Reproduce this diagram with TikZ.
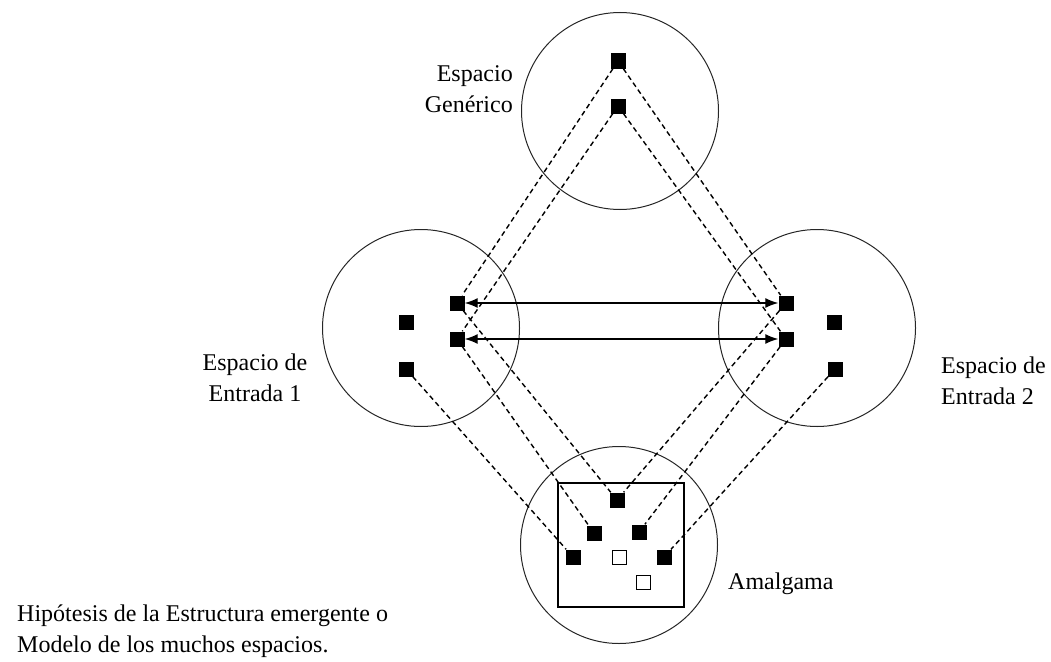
\documentclass[tikz,border=0pt]{standalone}
\usepackage{fontspec}
\setmainfont{Liberation Serif}
\usepackage{tikz}
\usetikzlibrary{positioning,arrows.meta}

\begin{document}
\begin{tikzpicture}
        [x=1pt,y=-1pt,
        ring/.style={circle,draw=black!85,line width=1pt,minimum size=197pt,inner sep=0pt},
        sq/.style={rectangle,fill=black,minimum size=15pt,inner sep=0pt},
        osq/.style={rectangle,draw=black,line width=1pt,fill=white,minimum size=14pt,inner sep=0pt},
        lbl/.style={font=\fontsize{24}{31}\selectfont,inner sep=0pt},
        map/.style={dash pattern=on 5pt off 3.5pt,line width=1.4pt}]
        \useasboundingbox (0,0) rectangle (1051,661);

        % the four spaces
        \node[ring] (gen) at (620, 111) {};
        \node[ring] (in1) at (421, 328) {};
        \node[ring] (in2) at (817, 328) {};
        \node[ring] (bld) at (619, 545) {};
        \draw[line width=1.1pt] (558, 483) rectangle (684, 607);

        % generic space
        \node[sq] (g1) at (618, 61) {};
        \node[sq] (g2) at (618, 106) {};

        % input space 1
        \node[sq] (a1) at (457, 303) {};
        \node[sq] (a2) at (457, 339) {};
        \node[sq] (a3) at (406, 322) {};
        \node[sq] (a4) at (406, 369) {};

        % input space 2
        \node[sq] (b1) at (786, 303) {};
        \node[sq] (b2) at (786, 339) {};
        \node[sq] (b3) at (834, 322) {};
        \node[sq] (b4) at (835, 369) {};

        % blend
        \node[sq] (c1) at (617, 500) {};
        \node[sq] (c2) at (594, 533) {};
        \node[sq] (c3) at (639, 532) {};
        \node[sq] (c4) at (573, 557) {};
        \node[osq] (c5) at (619, 557) {};
        \node[sq] (c6) at (664, 557) {};
        \node[osq] (c7) at (643, 582) {};

        % labels (base = last line)
        \node[lbl, align=right, anchor=base east] (t1) at (513, 112) {Espacio\\Genérico};
        \node[lbl, align=center, anchor=base] (t2) at (255, 401) {Espacio de\\Entrada 1};
        \node[lbl, align=left, anchor=base west] (t3) at (941, 404) {Espacio de\\Entrada 2};
        \node[lbl, anchor=base west] (t4) at (728, 589) {Amalgama};
        \node[lbl, align=left, anchor=base west] (t5) at (17, 652) {Hipótesis de la Estructura emergente o\\Modelo de los muchos espacios.};

        \foreach \from/\to in {g1/a1, g2/a2, g1/b1, g2/b2,
        a1/c1, a2/c2, a4/c4, b1/c1, b2/c3, b4/c6}
            \draw[map] (\from) -- (\to);

        \foreach \from/\to in {a1/b1, a2/b2}
            \draw[{Latex[length=13pt,width=10pt]}-{Latex[length=13pt,width=10pt]}, line width=1.3pt] (\from) -- (\to);

      \end{tikzpicture}
\end{document}
